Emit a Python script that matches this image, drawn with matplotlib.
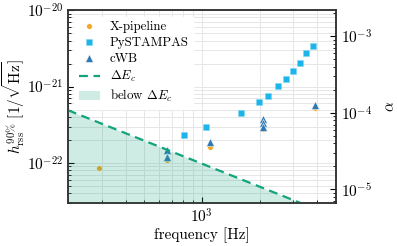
import numpy as np
import matplotlib
matplotlib.use("Agg")
import matplotlib.pyplot as plt

plt.rcParams.update({
    "font.family": "serif",
    "font.serif": ["cmr10", "DejaVu Serif"],
    "mathtext.fontset": "cm",
    "axes.formatter.use_mathtext": True,
    "font.size": 11,
})

# ---- data ----
xpipe_f = [291, 654, 1101, 2088, 3900]
xpipe_h = [8.7e-23, 1.09e-22, 1.63e-22, 2.76e-22, 5.28e-22]

pystampas_f = [803, 1053, 1607, 1995, 2210, 2502, 2754, 2995, 3234, 3500, 3794]
pystampas_h = [2.34e-22, 2.98e-22, 4.47e-22, 6.33e-22, 7.55e-22, 1.015e-21,
               1.24e-21, 1.58e-21, 2.05e-21, 2.77e-21, 3.38e-21]

cwb_f = [654, 654, 1101, 2088, 2088, 2088, 3900]
cwb_h = [1.48e-22, 1.19e-22, 1.87e-22, 3.76e-22, 3.30e-22, 2.98e-22, 5.73e-22]

dEc_f = [200, 5000]
dEc_h = [4.9e-22, 1.96e-23]

xlim = (200, 5000)
ylim = (3e-23, 1e-20)
alpha_per_h = 2.21e17

c_orange = "#F5A623"
c_cyan = "#1DB5E9"
c_blue = "#2F7AB6"
c_green = "#12A47B"

fig = plt.figure(figsize=(3.97, 2.46), dpi=100)
ax = fig.add_axes([0.171, 0.175, 0.675, 0.784])

ax.plot(xpipe_f, xpipe_h, "o", color=c_orange, ms=4.0, mec="white", mew=0.3,
        label="X-pipeline", zorder=3)
ax.plot(pystampas_f, pystampas_h, "s", color=c_cyan, ms=4.6, mec="#7fd6f4", mew=0.4,
        label="PySTAMPAS", zorder=3)
ax.plot(cwb_f, cwb_h, "^", color=c_blue, ms=5.4, mec="white", mew=0.4,
        label="cWB", zorder=4)
ax.plot(dEc_f, dEc_h, "--", color=c_green, lw=1.6, dashes=(4, 2.5),
        label=r"$\Delta E_c$", zorder=5)
ax.fill_between(dEc_f, dEc_h, ylim[0], color=c_green, alpha=0.2, lw=0,
                label=r"below $\Delta E_c$", zorder=5)

ax.set_xscale("log")
ax.set_yscale("log")
ax.set_xlim(*xlim)
ax.set_ylim(*ylim)
ax.grid(True, which="both", color="#e6e6e6", lw=0.7, zorder=0)
ax.set_axisbelow(True)
ax.tick_params(which="both", direction="in", top=False, right=False)
ax.tick_params(which="major", length=4)
ax.tick_params(which="minor", length=2.2)
for s in ax.spines.values():
    s.set_color("#333333")
    s.set_linewidth(1.1)

ax.set_xlabel("frequency [Hz]")
ax.xaxis.set_label_coords(0.5, -0.125)
ax.set_ylabel(r"$h_{\rm rss}^{90\%}\ [1/\sqrt{\rm Hz}]$")
ax.yaxis.set_label_coords(-0.152, 0.5)

ax2 = ax.twinx()
ax2.set_yscale("log")
ax2.set_ylim(ylim[0] * alpha_per_h, ylim[1] * alpha_per_h)
ax2.tick_params(which="both", direction="in")
ax2.tick_params(which="major", length=4)
ax2.tick_params(which="minor", length=2.2)
ax2.set_ylabel(r"$\alpha$", labelpad=8)
for s in ax2.spines.values():
    s.set_color("#333333")
    s.set_linewidth(1.1)

leg = ax.legend(loc="upper left", fontsize=9.3, frameon=True, framealpha=1,
                edgecolor="white", fancybox=False, borderpad=0.35,
                handlelength=1.6, labelspacing=0.3, handletextpad=0.8)
leg.set_zorder(10)

fig.savefig("out.png", dpi=100)
